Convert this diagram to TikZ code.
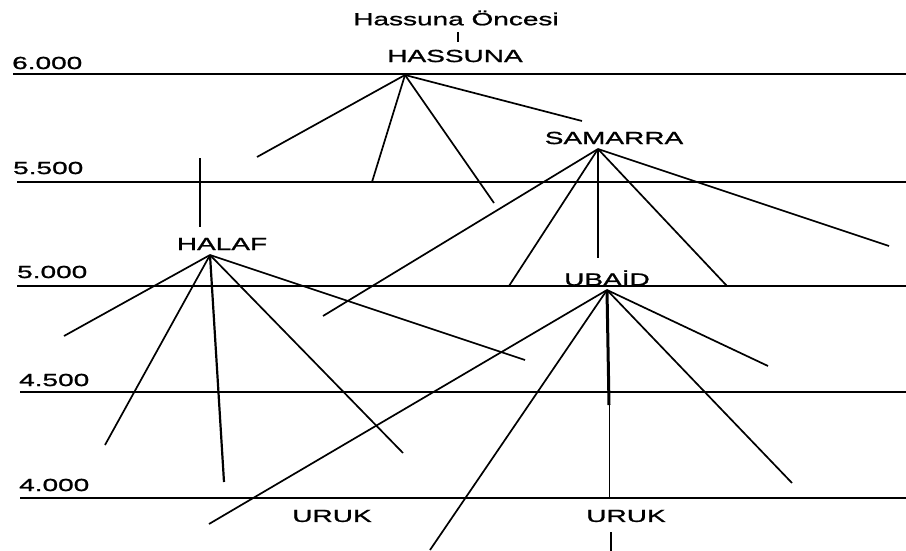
\documentclass[tikz,border=0pt]{standalone}
\usepackage{fontspec}
\setmainfont{Liberation Sans}[FakeStretch=1.6,FakeBold=1.2]
\begin{document}
\begin{tikzpicture}[x=1pt,y=-1pt,
  lbl/.style={inner sep=0pt,font=\fontsize{17.5}{19}\selectfont},
  era/.style={line width=2.2pt},
  erathin/.style={line width=1.5pt},
  branch/.style={line width=1.7pt},
  trunk/.style={line width=3pt}]
\useasboundingbox (0,0) rectangle (906,551);
% period lines
\coordinate (l6a) at (13,74);  \coordinate (l6b) at (906,74);
\coordinate (l55a) at (17,182); \coordinate (l55b) at (906,182);
\coordinate (l5a) at (17,286);  \coordinate (l5b) at (906,286);
\coordinate (l45a) at (20,392); \coordinate (l45b) at (906,392);
\coordinate (l4a) at (20,498);  \coordinate (l4b) at (906,498);
\draw[era] (l6a) -- (l6b);
\draw[era] (l55a) -- (l55b);
\draw[erathin] (l5a) -- (l5b);
\draw[era] (l45a) -- (l45b);
\draw[erathin] (l4a) -- (l4b);
% year labels
\node[lbl,anchor=west] (y6) at (12,63) {6.000};
\node[lbl,anchor=west] (y55) at (13,168) {5.500};
\node[lbl,anchor=west] (y5) at (17,272) {5.000};
\node[lbl,anchor=west] (y45) at (19,380) {4.500};
\node[lbl,anchor=west] (y4) at (19,485) {4.000};
% culture names
\node[lbl] (pre) at (456,18) {Hassuna Öncesi};
\node[lbl] (has) at (455,56) {HASSUNA};
\node[lbl] (sam) at (614,138) {SAMARRA};
\node[lbl] (hal) at (222,244) {HALAF};
\node[lbl] (uba) at (607,278) {UBAİD};
\node[lbl] (uruk1) at (332,516) {URUK};
\node[lbl] (uruk2) at (626,516) {URUK};
% small bar between Hassuna Öncesi and HASSUNA
\coordinate (ia) at (458,32); \coordinate (ib) at (458,42);
\draw[line width=1.8pt] (ia) -- (ib);
% Hassuna
\coordinate (H) at (405,75);
\coordinate (h1) at (257,157);
\coordinate (h2) at (372,182);
\coordinate (h3) at (494,203);
\coordinate (h4) at (582,121);
\foreach \e in {h1,h2,h3,h4} \draw[branch] (H) -- (\e);
% Samarra
\coordinate (S) at (598,149);
\coordinate (s1) at (323,316);
\coordinate (s2) at (509,286);
\coordinate (s3) at (598,258);
\coordinate (s4) at (727,286);
\coordinate (s5) at (889,246);
\foreach \e in {s1,s2,s3,s4,s5} \draw[branch] (S) -- (\e);
% Halaf
\coordinate (va) at (200,158); \coordinate (vb) at (200,227);
\draw[line width=2.4pt] (va) -- (vb);
\coordinate (L) at (210,255);
\coordinate (a1) at (64,336);
\coordinate (a2) at (105,445);
\coordinate (a3) at (224,482);
\coordinate (a4) at (403,453);
\coordinate (a5) at (525,360);
\foreach \e in {a1,a2,a4,a5} \draw[branch] (L) -- (\e);
\draw[line width=2.2pt] (L) -- (a3);
% Ubaid
\coordinate (U) at (607,290);
\coordinate (u1) at (209,524);
\coordinate (u2) at (430,550);
\coordinate (u3) at (609,405);
\coordinate (u4) at (792,483);
\coordinate (u5) at (768,366);
\foreach \e in {u1,u2,u4,u5} \draw[branch] (U) -- (\e);
\draw[trunk] (U) -- (u3);
\coordinate (u6) at (609,498);
\draw[line width=1pt] (u3) -- (u6);
% bar under right URUK
\coordinate (ba) at (611,532); \coordinate (bb) at (611,551);
\draw[line width=1.8pt] (ba) -- (bb);
\end{tikzpicture}
\end{document}
